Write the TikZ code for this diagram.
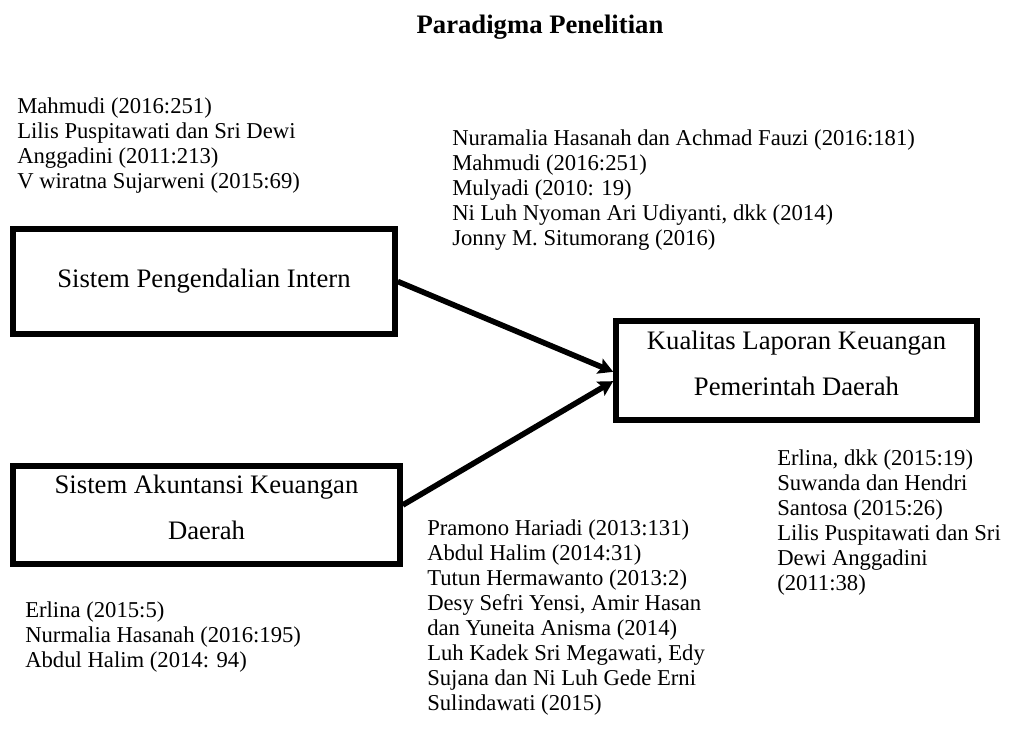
\documentclass[tikz,border=0pt]{standalone}
\usepackage{fontspec}
\setmainfont{Liberation Serif}
\usetikzlibrary{arrows.meta}

\begin{document}
\begin{tikzpicture}[x=0.75pt,y=-0.75pt]
    \tikzset{varbox/.style={draw,line width=4.2pt,inner sep=0pt,align=center,text depth=11.5pt,font=\fontsize{20}{34.5}\selectfont},
      reflist/.style={anchor=north west,inner sep=0pt,align=left,font=\fontsize{17}{18.75}\selectfont},
      flowarrow/.style={-{Stealth[length=11pt,width=12pt,inset=2pt]},line width=4.2pt}}
    \useasboundingbox (0,0) rectangle (1026,733);
    \node[anchor=base,font=\fontsize{20}{24}\selectfont\bfseries] (judul) at (540,33) {Paradigma Penelitian};
    % variabel
    \node[varbox,text depth=,minimum width=286.5pt,minimum height=78.75pt] (spi) at (204,281.5) {Sistem Pengendalian Intern};
    \node[varbox,minimum width=290.25pt,minimum height=73.5pt] (sak) at (206.5,515) {Sistem Akuntansi Keuangan\\Daerah};
    \node[varbox,minimum width=270.75pt,minimum height=74.25pt] (klk) at (796.5,370.5) {Kualitas Laporan Keuangan\\Pemerintah Daerah};
    % referensi
    \node[reflist] (refspi) at (17,97.3) {Mahmudi (2016:251)\\Lilis Puspitawati dan Sri Dewi\\Anggadini (2011:213)\\V wiratna Sujarweni (2015:69)};
    \node[reflist] (refspiklk) at (452,129.3) {Nuramalia Hasanah dan Achmad Fauzi (2016:181)\\Mahmudi (2016:251)\\Mulyadi (2010: 19)\\Ni Luh Nyoman Ari Udiyanti, dkk (2014)\\Jonny M. Situmorang (2016)};
    \node[reflist] (refsak) at (25,601.3) {Erlina (2015:5)\\Nurmalia Hasanah (2016:195)\\Abdul Halim (2014: 94)};
    \node[reflist] (refsakklk) at (427,519.3) {Pramono Hariadi (2013:131)\\Abdul Halim (2014:31)\\Tutun Hermawanto (2013:2)\\Desy Sefri Yensi, Amir Hasan\\dan Yuneita Anisma (2014)\\Luh Kadek Sri Megawati, Edy\\Sujana dan Ni Luh Gede Erni\\Sulindawati (2015)};
    \node[reflist] (refklk) at (777,449.3) {Erlina, dkk (2015:19)\\Suwanda dan Hendri\\Santosa (2015:26)\\Lilis Puspitawati dan Sri\\Dewi Anggadini\\(2011:38)};
    % hubungan
    \draw[flowarrow] (spi.east) -- ([yshift=-1pt]klk.west);
    \draw[flowarrow] ([yshift=7.5pt]sak.east) -- ([yshift=-8pt]klk.west);
  \end{tikzpicture}
\end{document}
